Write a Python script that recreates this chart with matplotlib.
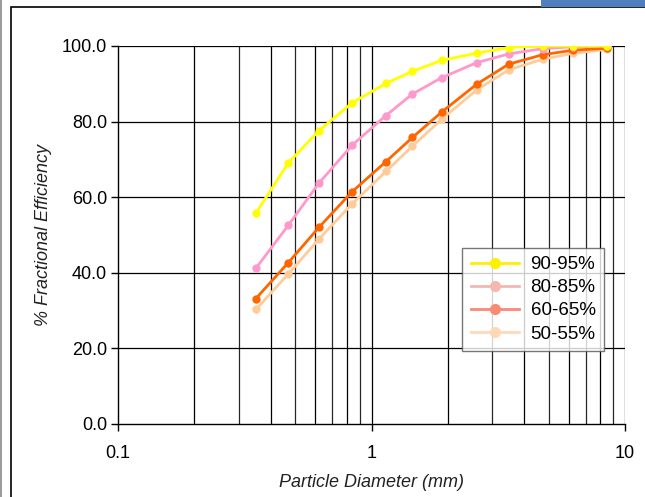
import numpy as np
import matplotlib.pyplot as plt
from matplotlib.lines import Line2D
from matplotlib.patches import Rectangle

plt.rcParams['font.family'] = ['Liberation Sans', 'DejaVu Sans']

# particle diameter (mm)
diam = [0.35, 0.47, 0.62, 0.84, 1.14, 1.45, 1.89, 2.60, 3.48, 4.74, 6.26, 8.48]

# fractional efficiency (%)
eff_90_95 = [55.8, 69.1, 77.6, 85.0, 90.1, 93.3, 96.2, 98.1, 99.6, 100.0, 100.0, 100.0]
eff_80_85 = [41.2, 52.6, 63.7, 73.8, 81.6, 87.3, 91.6, 95.6, 97.9, 99.3, 99.8, 100.0]
eff_60_65 = [33.2, 42.7, 52.0, 61.5, 69.4, 75.8, 82.5, 89.9, 95.2, 97.7, 98.9, 99.4]
eff_50_55 = [30.3, 39.7, 48.9, 58.3, 66.8, 73.5, 80.6, 88.4, 93.7, 96.5, 98.1, 99.1]

labels = ['90-95%', '80-85%', '60-65%', '50-55%']
line_colors = ['#FFFF00', '#FF99CC', '#FF6600', '#FFCC99']
legend_colors = ['#FFF000', '#F4B8B0', '#F88A76', '#FFD8B8']
series = [eff_90_95, eff_80_85, eff_60_65, eff_50_55]

fig = plt.figure(figsize=(6.45, 4.97), dpi=100)
ax = fig.add_axes([118 / 645, 1 - 424 / 497, (625 - 118) / 645, (424 - 46) / 497])

# draw back to front so yellow ends up on top
for vals, col in reversed(list(zip(series, line_colors))):
    ax.plot(diam, vals, color=col, linewidth=2, marker='o', markersize=6,
            markeredgewidth=0, zorder=3)

ax.set_xscale('log')
ax.set_xlim(0.1, 10)
ax.set_ylim(0, 100)
ax.set_yticks(np.arange(0, 101, 20))
ax.set_yticklabels([f'{v:.1f}' for v in np.arange(0, 101, 20)])
ax.set_xticks([0.1, 1, 10])
ax.set_xticklabels(['0.1', '1', '10'])
ax.minorticks_off()

# gridlines: every minor decade step + every 20 %
for dec in [0.1, 1]:
    for m in range(2, 11):
        ax.axvline(dec * m, color='black', linewidth=0.9, zorder=1,
                   alpha=0.85 if m % 2 else 1.0)
for v in np.arange(20, 101, 20):
    ax.axhline(v, color='black', linewidth=0.9, zorder=1)

for s in ['top', 'right']:
    ax.spines[s].set_visible(False)
ax.spines['left'].set_linewidth(1)
ax.spines['bottom'].set_linewidth(1)
ax.tick_params(axis='both', direction='out', length=5, width=1,
               labelsize=13, colors='black')
ax.tick_params(axis='x', pad=10)
ax.tick_params(axis='y', pad=3)

ax.set_xlabel('Particle Diameter (mm)', fontsize=13, fontstyle='italic',
              labelpad=9, color='#222222')
ax.set_ylabel('% Fractional Efficiency', fontsize=13, fontstyle='italic',
              labelpad=7, color='#222222')

handles = [Line2D([0], [0], color=c, linewidth=2, marker='o', markersize=8,
                  markeredgewidth=0) for c in legend_colors]
leg = ax.legend(handles, labels, loc='lower right',
                bbox_to_anchor=((604 - 118) / 507, (424 - 351) / 378),
                fontsize=13.5, frameon=True, fancybox=False, handlelength=2.6,
                borderpad=0.45, labelspacing=0.32, handletextpad=0.6,
                borderaxespad=0)
leg.get_frame().set_edgecolor('#555555')
leg.get_frame().set_linewidth(1)
leg.set_zorder(5)

# screenshot frame and the blue tab at the top right
fig.patches.append(Rectangle((11 / 645, -0.1), 1.2, 1 - 7 / 497 + 0.1,
                             transform=fig.transFigure, fill=False,
                             edgecolor='black', linewidth=1.2))
fig.patches.append(Rectangle((1 / 645, 0), 0, 1, transform=fig.transFigure,
                             fill=False, edgecolor='#888888', linewidth=1.2))
fig.patches.append(Rectangle((541 / 645, 1 - 7 / 497), 104 / 645, 7 / 497,
                             transform=fig.transFigure, facecolor='#4F7FC0',
                             edgecolor='none'))

fig.savefig('out.png', dpi=100)
